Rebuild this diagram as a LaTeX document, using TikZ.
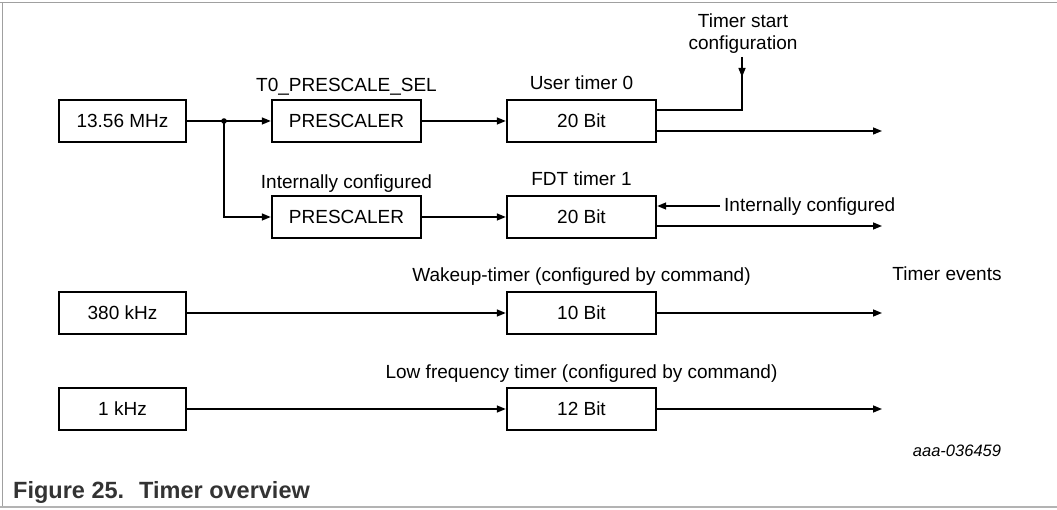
\documentclass[tikz,border=0pt]{standalone}
\usepackage{fontspec}
\setmainfont{Liberation Sans}
\usetikzlibrary{arrows.meta}
\definecolor{capgray}{HTML}{333333}
\definecolor{framegray}{HTML}{A0A0A0}
\begin{document}
\begin{tikzpicture}[x=1pt,y=-1pt,
  blk/.style={draw, line width=2.4pt, minimum height=42pt, inner sep=0pt, font=\fontsize{19}{22}\selectfont},
  lblk/.style={blk, minimum width=127pt},
  tblk/.style={blk, minimum width=149pt},
  conn/.style={line width=1.4pt},
  arr/.style={conn, -{Triangle[length=9pt,width=7pt]}},
  lbl/.style={font=\fontsize{19}{22}\selectfont, inner sep=0pt, anchor=base}]
\useasboundingbox (0,0) rectangle (1057,510);
% frame
\draw[framegray, line width=1.5pt] (0,2.5) -- (1057,2.5);
\draw[framegray, line width=1.5pt] (2.5,2.5) -- (2.5,507);
\draw[framegray!80, line width=1.5pt] (0,507) -- (1057,507);
% blocks
\node[lblk] (clk1) at (122.5,121) {13.56 MHz};
\node[tblk] (pre1) at (346.5,121) {PRESCALER};
\node[tblk] (t0) at (581.5,121) {20 Bit};
\node[tblk] (pre2) at (346.5,217) {PRESCALER};
\node[tblk] (t1) at (581.5,217) {20 Bit};
\node[lblk] (clk2) at (122.5,313) {380 kHz};
\node[tblk] (t2) at (581.5,313) {10 Bit};
\node[lblk] (clk3) at (122.5,409) {1 kHz};
\node[tblk] (t3) at (581.5,409) {12 Bit};
% labels
\node[lbl] (l1) at (346.5,92) {T0\_PRESCALE\_SEL};
\node[lbl] (l2) at (346.5,189) {Internally configured};
\node[lbl] (l3) at (581.5,90) {User timer 0};
\node[lbl] (l4) at (581.5,186) {FDT timer 1};
\node[lbl] (l5) at (581.5,282) {Wakeup-timer (configured by command)};
\node[lbl] (l6) at (581.5,378) {Low frequency timer (configured by command)};
\node[lbl] (ts1) at (743,28) {Timer start};
\node[lbl] (ts2) at (743,50) {configuration};
\node[lbl] (ev) at (947,281) {Timer events};
\node[lbl, font=\fontsize{16.5}{20}\selectfont\itshape] (id) at (957,456) {aaa-036459};
\node[lbl, anchor=base west, font=\fontsize{23.5}{26}\selectfont\bfseries, text=capgray] (cap) at (13,498) {Figure 25.\hspace*{15pt}Timer overview};
\coordinate (icin) at (720,206);
\node[lbl, anchor=base west] (ic) at (724,212) {Internally configured};
% connectors
\coordinate (dot) at (224,121);
\draw[conn] (clk1.east) -- (dot);
\draw[arr] (dot) -- (pre1.west);
\draw[arr] (dot) |- (pre2.west);
\fill (dot) circle (2.8pt);
\draw[arr] (pre1.east) -- (t0.west);
\draw[arr] (pre2.east) -- (t1.west);
\draw[arr] (clk2.east) -- (t2.west);
\draw[arr] (clk3.east) -- (t3.west);
% user timer 0 outputs
\coordinate (tstop) at (742,57);
\coordinate (tstip) at (742,77);
\coordinate (tsin) at (657,110);
\draw[conn] (tsin) -| (tstop);
\draw[arr] (tstop) -- (tstip);
\coordinate (o0) at (882,131);
\draw[arr] (t0.east |- o0) -- (o0);
% FDT timer 1
\draw[arr] (icin) -- (t1.east |- icin);
\coordinate (o1) at (882,226);
\draw[arr] (t1.east |- o1) -- (o1);
% wakeup and LF outputs
\coordinate (o2) at (882,313);
\draw[arr] (t2.east) -- (o2);
\coordinate (o3) at (882,409);
\draw[arr] (t3.east) -- (o3);
\end{tikzpicture}
\end{document}
